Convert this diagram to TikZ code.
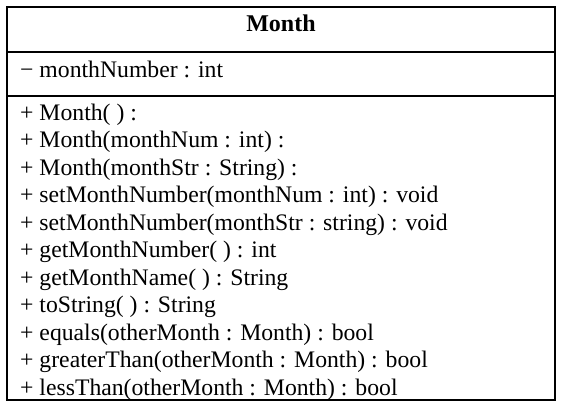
\documentclass[tikz,border=0pt]{standalone}
\usepackage{fontspec}
\setmainfont{Liberation Serif}
\begin{document}
\begin{tikzpicture}[x=1pt,y=-1pt,
  member/.style={anchor=base west,inner sep=0pt,font=\fontsize{23.7}{28}\selectfont},
  heading/.style={anchor=base,inner sep=0pt,font=\fontsize{24}{28}\selectfont\bfseries},
  thinrule/.style={line width=1.3pt},
  thickrule/.style={line width=2pt}]
\useasboundingbox (0,0) rectangle (561,407);
% class frame
\draw[thinrule] (7,7) -- (7,400) -- (555,400) -- (555,7);
\draw[thickrule] (6.4,7) -- (555.6,7);
\draw[thickrule] (7,52) -- (555,52);
\draw[thickrule] (7,96) -- (555,96);
% class name
\node[heading] (name) at (281,31) {Month};
% attribute
\node[member] (attr) at (20,77) {− monthNumber : int};
% operations
\foreach \txt [count=\i] in {
  {+ Month( ) :},
  {+ Month(monthNum : int) :},
  {+ Month(monthStr : String) :},
  {+ setMonthNumber(monthNum : int) : void},
  {+ setMonthNumber(monthStr : string) : void},
  {+ getMonthNumber( ) : int},
  {+ getMonthName( ) : String},
  {+ toString( ) : String},
  {+ equals(otherMonth : Month) : bool},
  {+ greaterThan(otherMonth : Month) : bool},
  {+ lessThan(otherMonth : Month) : bool}}
  \node[member] (op\i) at (20,{120+27.5*(\i-1)}) {\txt};
\end{tikzpicture}
\end{document}
